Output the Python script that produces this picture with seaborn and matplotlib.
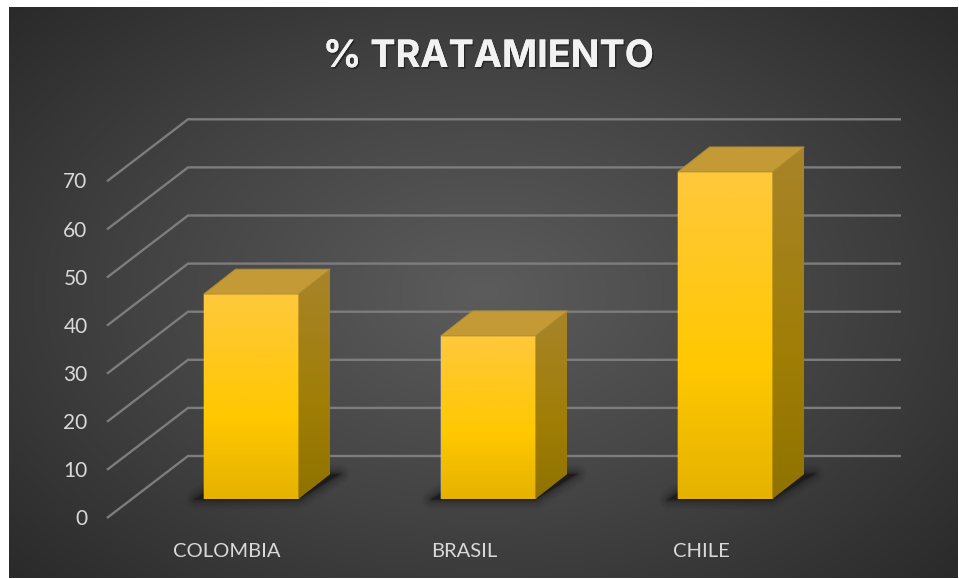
import numpy as np
import pandas as pd
import matplotlib
matplotlib.use("Agg")
import matplotlib.pyplot as plt
import matplotlib.patheffects as pe
from matplotlib.colors import LinearSegmentedColormap
from matplotlib.patches import Polygon
from matplotlib.transforms import ScaledTranslation
import seaborn as sns

# Data
paises = ["COLOMBIA", "BRASIL", "CHILE"]
tratamiento = [42.6, 33.9, 68.0]
ticks_valor = [0, 10, 20, 30, 40, 50, 60, 70]
titulo = "% TRATAMIENTO"

W, H = 959, 579
DPI = 100
sns.set_theme(style="white")
plt.rcParams["font.family"] = ["Lato", "DejaVu Sans"]

fig = plt.figure(figsize=(W / DPI, H / DPI), dpi=DPI, facecolor="white")


def rect(x0, y_top, x1, y_bottom):
    return [x0 / W, 1 - y_bottom / H, (x1 - x0) / W, (y_bottom - y_top) / H]


# Dark panel with a radial glow
ax_bg = fig.add_axes(rect(9, 7, 958, 578), zorder=0)
yy, xx = np.mgrid[0:1:300j, 0:1:500j]
dist = np.sqrt(((xx - 0.5) / 0.72) ** 2 + ((yy - 0.5) / 0.78) ** 2)
glow = LinearSegmentedColormap.from_list(
    "glow", [(0, "#5c5c5c"), (0.5, "#434343"), (1, "#272727")])
ax_bg.imshow(np.clip(dist, 0, 1), cmap=glow, vmin=0, vmax=1, aspect="auto",
             interpolation="bilinear")
ax_bg.axis("off")

# Wall and back plane: value axis on the front edge of the floor
PX_PER_UNIT = 4.81
DEPTH_X, DEPTH_Y = 81, 62
FLOOR_Y = 518.0
ax_wall = fig.add_axes(rect(107, FLOOR_Y - 70 * PX_PER_UNIT, 901, FLOOR_Y), zorder=1)
ax_wall.patch.set_alpha(0)
ax_wall.set_xlim(0, 1)
ax_wall.set_ylim(0, 70)
depth_x = DEPTH_X / (901 - 107)
depth_y = DEPTH_Y / PX_PER_UNIT
for v in ticks_valor:
    ax_wall.plot([0, depth_x, 1], [v, v + depth_y, v + depth_y], color="#7d7d7d",
                 lw=1.7, clip_on=False, solid_joinstyle="miter", solid_capstyle="butt")
ax_wall.set_xticks([])
ax_wall.set_yticks(ticks_valor)
ax_wall.tick_params(axis="y", length=0, pad=14, labelsize=15, labelcolor="#d9d9d9")
tick_shift = ScaledTranslation(0, 0.8 / DPI, fig.dpi_scale_trans)
for lab in ax_wall.get_yticklabels():
    lab.set_transform(lab.get_transform() + tick_shift)
sns.despine(ax=ax_wall, left=True, bottom=True)

# Bars: front faces come from seaborn, depth and gradient are added on top
STEP = 237.0
ax = fig.add_axes(rect(132.5, 499 - 90 * 4.81, 843.5, 499), zorder=2)
ax.patch.set_alpha(0)
df = pd.DataFrame({"pais": paises, "tratamiento": tratamiento})
sns.barplot(data=df, x="pais", y="tratamiento", width=0.4, color="#ffc800",
            saturation=1, ax=ax, zorder=3)
ax.set_xlim(-0.5, 2.5)
ax.set_ylim(0, 90)

dx = 32 / STEP
dy = 25 / 4.81
front_cmap = LinearSegmentedColormap.from_list(
    "front", [(0, "#ffc83c"), (0.6, "#ffc800"), (1, "#e5b200")])
side_cmap = LinearSegmentedColormap.from_list(
    "side", [(0, "#a8842a"), (0.6, "#a07e06"), (1, "#8f7200")])
grad = np.linspace(0, 1, 256).reshape(-1, 1)

for bar in list(ax.patches):
    x0, w, h = bar.get_x(), bar.get_width(), bar.get_height()
    x1 = x0 + w
    # soft floor shadow
    sx = 9 / STEP
    floor = [(x0 - sx, -0.1), (x1, -0.1), (x1 + 1.3 * dx, dy * 1.0), (x0 + 0.9 * dx, dy * 1.0)]
    for lw, a in zip([14, 11, 8, 5, 3, 1], [0.05, 0.07, 0.09, 0.12, 0.16, 0.25]):
        ax.add_patch(Polygon(floor, closed=True, facecolor="none", edgecolor="#141414",
                             lw=lw, alpha=a, clip_on=False, zorder=2, joinstyle="round"))
    ax.add_patch(Polygon(floor, closed=True, facecolor="#1c1c1c", edgecolor="none",
                         clip_on=False, zorder=2))
    # front face gradient
    im = ax.imshow(grad, cmap=front_cmap, extent=(x0, x1, 0, h), aspect="auto",
                   zorder=4, origin="upper")
    im.set_clip_path(bar)
    # side face
    side = Polygon([(x1, 0), (x1 + dx, dy), (x1 + dx, h + dy), (x1, h)], closed=True,
                   facecolor="none", edgecolor="none", clip_on=False, zorder=4)
    ax.add_patch(side)
    im2 = ax.imshow(grad, cmap=side_cmap, extent=(x1, x1 + dx, 0, h + dy), aspect="auto",
                    zorder=4, origin="upper")
    im2.set_clip_path(side)
    # top face
    ax.add_patch(Polygon([(x0, h), (x1, h), (x1 + dx, h + dy), (x0 + dx, h + dy)],
                         closed=True, facecolor="#c39a35", edgecolor="#b18b2e", lw=0.6,
                         clip_on=False, zorder=5))

ax.set_xlim(-0.5, 2.5)
ax.set_ylim(0, 90)
ax.set_xlabel("")
ax.set_ylabel("")
ax.set_yticks([])
ax.tick_params(axis="x", length=0, pad=32, labelsize=14.5, labelcolor="#d9d9d9")
shift = ScaledTranslation(-24 / DPI, 0, fig.dpi_scale_trans)
for lab in ax.get_xticklabels():
    lab.set_transform(lab.get_transform() + shift)
sns.despine(ax=ax, left=True, bottom=True)

# Title with a soft drop shadow
fig.text(488.5 / W, 1 - 57 / H, titulo, ha="center", va="center", color="#f2f2f2",
         fontsize=27.2, fontweight="bold", family=["Inter", "DejaVu Sans"], zorder=10,
         path_effects=[pe.withSimplePatchShadow(offset=(1.0, -1.2), shadow_rgbFace="#000000",
                                                alpha=0.4),
                       pe.Normal()])

fig.savefig("out.png", dpi=DPI, facecolor=fig.get_facecolor())
